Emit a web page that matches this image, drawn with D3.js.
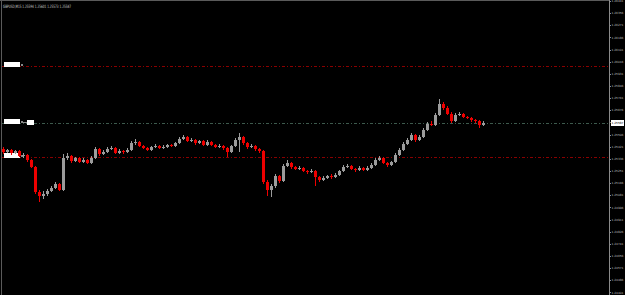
<!DOCTYPE html>
<html>
<head>
<meta charset="utf-8">
<script src="https://cdn.jsdelivr.net/npm/d3@7"></script>
<style>
  html, body { margin: 0; padding: 0; background: #000; }
  svg { display: block; }
</style>
</head>
<body>
<div id="container"></div>
<script>
/* CONSTANTS AND GLOBALS */
const width = 625;
const height = 295;
const axisX = 609;

/* DATA (GBPUSD, M15) */
const title = "GBPUSD,M15  1.25594 1.25601 1.25573 1.25587";

const opens = [1.25405,1.25384,1.25398,1.25377,1.25391,1.25356,1.25363,1.25328,1.25279,1.25104,
  1.25076,1.25090,1.25111,1.25132,1.25160,1.25118,1.25342,1.25356,1.25321,1.25342,
  1.25314,1.25328,1.25307,1.25342,1.25405,1.25370,1.25384,1.25405,1.25412,1.25377,
  1.25391,1.25384,1.25398,1.25447,1.25454,1.25426,1.25412,1.25398,1.25419,1.25426,
  1.25412,1.25419,1.25433,1.25426,1.25447,1.25475,1.25489,1.25461,1.25468,1.25447,
  1.25461,1.25433,1.25454,1.25433,1.25419,1.25426,1.25412,1.25384,1.25426,1.25468,
  1.25489,1.25447,1.25419,1.25426,1.25405,1.25391,1.25174,1.25118,1.25146,1.25216,
  1.25181,1.25286,1.25307,1.25279,1.25265,1.25272,1.25251,1.25244,1.25251,1.25209,
  1.25188,1.25202,1.25216,1.25209,1.25223,1.25251,1.25279,1.25286,1.25265,1.25258,
  1.25272,1.25258,1.25272,1.25293,1.25328,1.25342,1.25307,1.25293,1.25314,1.25363,
  1.25398,1.25440,1.25468,1.25503,1.25468,1.25489,1.25538,1.25580,1.25573,1.25643,
  1.25720,1.25692,1.25650,1.25601,1.25643,1.25650,1.25629,1.25622,1.25608,1.25601,
  1.25573];

const closes = [1.25384,1.25398,1.25377,1.25391,1.25356,1.25363,1.25328,1.25279,1.25104,1.25076,
  1.25090,1.25111,1.25132,1.25160,1.25118,1.25342,1.25356,1.25321,1.25342,1.25314,
  1.25328,1.25307,1.25342,1.25405,1.25370,1.25384,1.25405,1.25412,1.25377,1.25391,
  1.25384,1.25398,1.25447,1.25454,1.25426,1.25412,1.25398,1.25419,1.25426,1.25412,
  1.25419,1.25433,1.25426,1.25447,1.25475,1.25489,1.25461,1.25468,1.25447,1.25461,
  1.25433,1.25454,1.25433,1.25419,1.25426,1.25412,1.25384,1.25426,1.25468,1.25489,
  1.25447,1.25419,1.25426,1.25405,1.25391,1.25174,1.25118,1.25146,1.25216,1.25181,
  1.25286,1.25307,1.25279,1.25265,1.25272,1.25251,1.25244,1.25251,1.25209,1.25188,
  1.25202,1.25216,1.25209,1.25223,1.25251,1.25279,1.25286,1.25265,1.25258,1.25272,
  1.25258,1.25272,1.25293,1.25328,1.25342,1.25307,1.25293,1.25314,1.25363,1.25398,
  1.25440,1.25468,1.25503,1.25468,1.25489,1.25538,1.25580,1.25573,1.25643,1.25720,
  1.25692,1.25650,1.25601,1.25643,1.25650,1.25629,1.25622,1.25608,1.25601,1.25573,
  1.25587];

const highs = [1.25419,1.25405,1.25405,1.25398,1.25398,1.25377,1.25370,1.25335,1.25286,1.25118,
  1.25111,1.25125,1.25146,1.25174,1.25167,1.25370,1.25377,1.25363,1.25349,1.25349,
  1.25342,1.25335,1.25356,1.25419,1.25412,1.25398,1.25419,1.25426,1.25419,1.25405,
  1.25398,1.25412,1.25461,1.25475,1.25461,1.25433,1.25419,1.25426,1.25440,1.25433,
  1.25433,1.25440,1.25440,1.25454,1.25489,1.25503,1.25496,1.25482,1.25475,1.25468,
  1.25468,1.25468,1.25461,1.25440,1.25440,1.25433,1.25419,1.25433,1.25482,1.25517,
  1.25496,1.25454,1.25440,1.25433,1.25412,1.25398,1.25188,1.25160,1.25230,1.25223,
  1.25300,1.25328,1.25314,1.25286,1.25286,1.25279,1.25258,1.25265,1.25258,1.25216,
  1.25216,1.25223,1.25230,1.25237,1.25258,1.25293,1.25300,1.25293,1.25272,1.25286,
  1.25279,1.25286,1.25307,1.25342,1.25356,1.25349,1.25314,1.25321,1.25377,1.25412,
  1.25454,1.25482,1.25517,1.25510,1.25503,1.25552,1.25594,1.25601,1.25657,1.25755,
  1.25734,1.25706,1.25664,1.25657,1.25664,1.25657,1.25636,1.25629,1.25615,1.25608,
  1.25601];

const lows = [1.25370,1.25377,1.25363,1.25370,1.25349,1.25342,1.25314,1.25272,1.25090,1.25034,
  1.25055,1.25076,1.25104,1.25125,1.25111,1.25111,1.25328,1.25307,1.25314,1.25307,
  1.25307,1.25300,1.25300,1.25335,1.25356,1.25363,1.25377,1.25398,1.25370,1.25370,
  1.25370,1.25377,1.25391,1.25433,1.25419,1.25405,1.25391,1.25391,1.25412,1.25405,
  1.25405,1.25412,1.25419,1.25419,1.25440,1.25468,1.25454,1.25454,1.25433,1.25440,
  1.25426,1.25426,1.25426,1.25412,1.25412,1.25398,1.25349,1.25377,1.25419,1.25384,
  1.25433,1.25405,1.25412,1.25391,1.25377,1.25160,1.25076,1.25069,1.25132,1.25167,
  1.25174,1.25279,1.25265,1.25258,1.25258,1.25244,1.25230,1.25237,1.25146,1.25174,
  1.25181,1.25195,1.25195,1.25202,1.25216,1.25244,1.25272,1.25258,1.25244,1.25251,
  1.25251,1.25251,1.25265,1.25286,1.25321,1.25300,1.25279,1.25286,1.25307,1.25356,
  1.25391,1.25433,1.25461,1.25454,1.25461,1.25482,1.25531,1.25566,1.25566,1.25636,
  1.25678,1.25643,1.25587,1.25594,1.25636,1.25622,1.25615,1.25594,1.25587,1.25552,
  1.25566];

// horizontal levels drawn on the chart
const levels = [1.25986, 1.25352];
const bid = 1.25587;

const tickValues = [1.26441,1.26356,1.26271,1.26186,1.26101,1.26016,1.25931,1.25846,1.25761,
  1.25676,1.25591,1.25506,1.25421,1.25336,1.25251,1.25166,1.25081,1.24996,1.24911,
  1.24826,1.24741,1.24656,1.24571,1.24486,1.24401];

const bars = opens.map((o, i) => ({ i, o, h: highs[i], l: lows[i], c: closes[i] }));

const svg = d3.select("#container")
  .append("svg")
  .attr("width", width)
  .attr("height", height)
  .style("background-color", "#000");

/* SCALES */
const yScale = d3.scaleLinear()
  .domain([1.26448, 1.24383])
  .range([0, height]);

const xScale = d3.scaleLinear()
  .domain([0, bars.length - 1])
  .range([3, 483]);

const upColor = "#9b9b9b";
const downColor = "#ee0000";

/* FRAME */
svg.append("line")
  .attr("x1", 1.5).attr("x2", 1.5).attr("y1", 0).attr("y2", height)
  .attr("stroke", "#5a5a5a");
svg.append("line")
  .attr("x1", 0).attr("x2", axisX).attr("y1", 0.5).attr("y2", 0.5)
  .attr("stroke", "#5a5a5a");

/* LEVELS */
svg.selectAll(".level")
  .data(levels)
  .join("line")
  .attr("class", "level")
  .attr("x1", 2).attr("x2", axisX)
  .attr("y1", d => Math.round(yScale(d)) + 0.5)
  .attr("y2", d => Math.round(yScale(d)) + 0.5)
  .attr("stroke", "#8a0000")
  .attr("stroke-dasharray", "3,2,1,2");

svg.append("line")
  .attr("x1", 2).attr("x2", axisX)
  .attr("y1", Math.round(yScale(bid)) + 0.5)
  .attr("y2", Math.round(yScale(bid)) + 0.5)
  .attr("stroke", "#3d5a4d")
  .attr("stroke-dasharray", "3,2,1,2");

// level labels at left
svg.selectAll(".lvl-label")
  .data([levels[0], bid, levels[1]])
  .join("rect")
  .attr("class", "lvl-label")
  .attr("x", 4)
  .attr("y", d => Math.round(yScale(d)) - 4)
  .attr("width", 16)
  .attr("height", 5)
  .attr("fill", "#fff");
svg.selectAll(".lvl-dot")
  .data([levels[0], bid, levels[1]])
  .join("rect")
  .attr("class", "lvl-dot")
  .attr("x", 21)
  .attr("y", d => Math.round(yScale(d)) - 2)
  .attr("width", 2)
  .attr("height", 2)
  .attr("fill", "#888");
svg.append("rect")
  .attr("x", 23).attr("y", Math.round(yScale(bid)) - 1)
  .attr("width", 4).attr("height", 1)
  .attr("fill", "#888");
svg.append("rect")
  .attr("x", 27).attr("y", Math.round(yScale(bid)) - 3)
  .attr("width", 7).attr("height", 5)
  .attr("fill", "#fff");

/* CANDLES */
svg.selectAll(".wick")
  .data(bars)
  .join("line")
  .attr("class", "wick")
  .attr("x1", d => Math.round(xScale(d.i)) + 0.5)
  .attr("x2", d => Math.round(xScale(d.i)) + 0.5)
  .attr("y1", d => yScale(d.h))
  .attr("y2", d => yScale(d.l))
  .attr("stroke", d => d.c >= d.o ? upColor : downColor)
  .attr("stroke-width", 1);

svg.selectAll(".body")
  .data(bars)
  .join("rect")
  .attr("class", "body")
  .attr("x", d => Math.round(xScale(d.i)) - 1)
  .attr("width", 3)
  .attr("y", d => yScale(Math.max(d.o, d.c)))
  .attr("height", d => Math.max(1, Math.abs(yScale(d.o) - yScale(d.c))))
  .attr("fill", d => d.c >= d.o ? upColor : downColor);

/* PRICE AXIS */
svg.append("line")
  .attr("x1", axisX + 0.5).attr("x2", axisX + 0.5)
  .attr("y1", 0).attr("y2", height)
  .attr("stroke", "#8a8a8a");

svg.selectAll(".tick-mark")
  .data(tickValues)
  .join("line")
  .attr("class", "tick-mark")
  .attr("x1", axisX).attr("x2", axisX + 2)
  .attr("y1", d => Math.round(yScale(d)) + 0.5)
  .attr("y2", d => Math.round(yScale(d)) + 0.5)
  .attr("stroke", "#8a8a8a");

svg.selectAll(".tick-label")
  .data(tickValues)
  .join("text")
  .attr("class", "tick-label")
  .attr("x", axisX + 2.5)
  .attr("y", d => yScale(d) + 1.2)
  .attr("fill", "#bdbdbd")
  .style("font-family", "DejaVu Sans, sans-serif")
  .style("font-size", "2.9px")
  .text(d => d.toFixed(5));

// current price box
svg.append("rect")
  .attr("x", axisX + 2).attr("y", yScale(bid) - 3)
  .attr("width", 13).attr("height", 6)
  .attr("fill", "#fff");
svg.append("text")
  .attr("x", axisX + 2.5)
  .attr("y", yScale(bid) + 1.2)
  .attr("fill", "#000")
  .style("font-family", "DejaVu Sans, sans-serif")
  .style("font-size", "2.9px")
  .text(bid.toFixed(5));

/* TITLE */
svg.append("text")
  .attr("x", 3)
  .attr("y", 8)
  .attr("fill", "#cfcfcf")
  .attr("textLength", 68)
  .attr("lengthAdjust", "spacingAndGlyphs")
  .style("font-family", "DejaVu Sans, sans-serif")
  .style("font-size", "4.5px")
  .text(title);
</script>
</body>
</html>
